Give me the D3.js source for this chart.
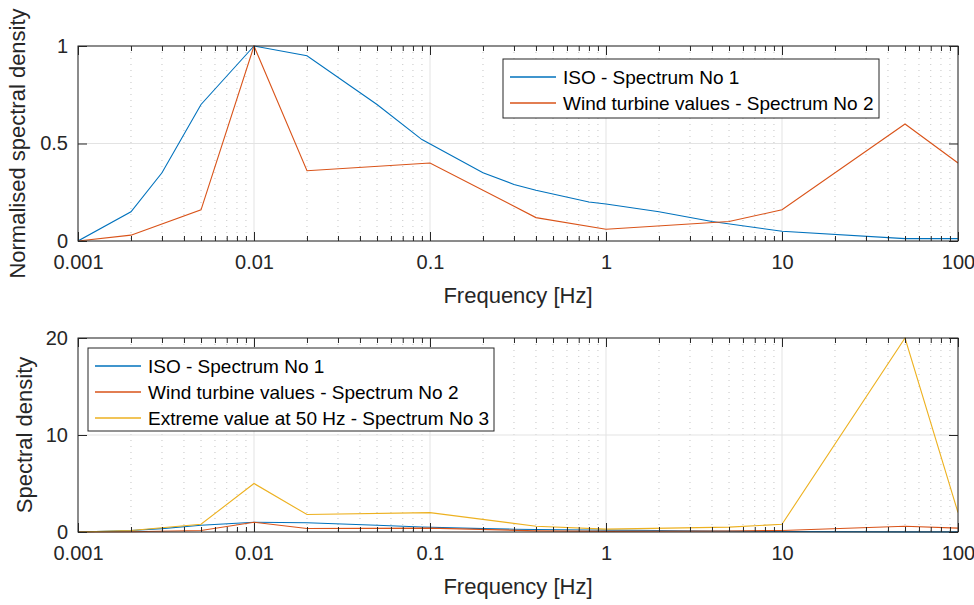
<!DOCTYPE html>
<html>
<head>
<meta charset="utf-8">
<script src="https://cdn.jsdelivr.net/npm/d3@7"></script>
<style>
    body { margin: 0; background: white; }
    svg { display: block; font-family: "Liberation Sans", Arial, sans-serif; }
</style>
</head>
<body>
<div id="chart"></div>
<script>
// ISO spectrum (No 1)
var isoFreq = [0.001, 0.002, 0.003, 0.005, 0.01, 0.02, 0.05, 0.09, 0.2, 0.3, 0.4, 0.8, 1, 2, 4, 10, 50, 100];
var isoVals = [0, 0.15, 0.35, 0.70, 1.0, 0.95, 0.70, 0.52, 0.35, 0.29, 0.26, 0.20, 0.19, 0.15, 0.10, 0.05, 0.012, 0.012];

// wind turbine spectrum (No 2) and extreme spectrum (No 3)
var windFreq = [0.001, 0.002, 0.005, 0.01, 0.02, 0.1, 0.4, 1, 5, 10, 50, 100];
var windVals = [0, 0.03, 0.16, 1.0, 0.36, 0.40, 0.12, 0.06, 0.10, 0.16, 0.60, 0.40];
var extremeVals = [0, 0.15, 0.8, 5.0, 1.8, 2.0, 0.6, 0.3, 0.5, 0.8, 20, 2.0];

var xTicks = [0.001, 0.01, 0.1, 1, 10, 100];
var xTickLabels = ['0.001', '0.01', '0.1', '1', '10', '100'];
var topYTicks = [0, 0.5, 1];
var bottomYTicks = [0, 10, 20];

var seriesNames = ['ISO - Spectrum No 1', 'Wind turbine values - Spectrum No 2', 'Extreme value at 50 Hz - Spectrum No 3'];
var colors = ['#0072bd', '#d95319', '#edb120'];

var W = 974, H = 605;
var svg = d3.select('#chart').append('svg')
    .attr('width', W)
    .attr('height', H);

var axisColor = '#262626';

function drawPanel(p) {
    var xS = d3.scaleLog().domain([0.001, 100]).range([p.left, p.right]);
    var yS = d3.scaleLinear().domain(p.yDomain).range([p.bottom, p.top]);
    var g = svg.append('g');

    // minor grid (dotted)
    var minor = [];
    for (var e = -3; e < 2; e++) {
        for (var k = 2; k < 10; k++) minor.push(k * Math.pow(10, e));
    }
    g.selectAll('.minorgrid').data(minor).enter().append('line')
        .attr('x1', function (d) { return xS(d); })
        .attr('x2', function (d) { return xS(d); })
        .attr('y1', p.top).attr('y2', p.bottom)
        .style('stroke', '#c4c4c4')
        .style('stroke-width', 1)
        .style('stroke-dasharray', '1,5');

    // major grid
    g.selectAll('.xgrid').data(xTicks).enter().append('line')
        .attr('x1', function (d) { return xS(d); })
        .attr('x2', function (d) { return xS(d); })
        .attr('y1', p.top).attr('y2', p.bottom)
        .style('stroke', '#e3e3e3');
    g.selectAll('.ygrid').data(p.yTicks).enter().append('line')
        .attr('x1', p.left).attr('x2', p.right)
        .attr('y1', function (d) { return yS(d); })
        .attr('y2', function (d) { return yS(d); })
        .style('stroke', '#e3e3e3');

    // clip
    var clipId = 'clip' + p.id;
    svg.append('clipPath').attr('id', clipId).append('rect')
        .attr('x', p.left).attr('y', p.top - 1)
        .attr('width', p.right - p.left).attr('height', p.bottom - p.top + 2);

    var line = d3.line()
        .x(function (d) { return xS(d[0]); })
        .y(function (d) { return yS(d[1]); });

    p.series.forEach(function (s) {
        g.append('path')
            .datum(d3.zip(s.x, s.y))
            .attr('clip-path', 'url(#' + clipId + ')')
            .attr('d', line)
            .style('fill', 'none')
            .style('stroke', s.color)
            .style('stroke-width', 1.1);
    });

    // axes with inward ticks
    var bottomAx = d3.axisBottom(xS).tickValues(xTicks).tickSizeInner(-9).tickSizeOuter(0)
        .tickFormat(function (d, i) { return xTickLabels[i]; }).tickPadding(14);
    var topAx = d3.axisTop(xS).tickValues(xTicks).tickSizeInner(-9).tickSizeOuter(0).tickFormat('');
    var leftAx = d3.axisLeft(yS).tickValues(p.yTicks).tickSizeInner(-9).tickSizeOuter(0).tickPadding(10)
        .tickFormat(function (d) { return String(d); });
    var rightAx = d3.axisRight(yS).tickValues(p.yTicks).tickSizeInner(-9).tickSizeOuter(0).tickFormat('');

    var minorBottom = d3.axisBottom(xS).tickValues(minor).tickSizeInner(-5).tickSizeOuter(0).tickFormat('');
    var minorTop = d3.axisTop(xS).tickValues(minor).tickSizeInner(-5).tickSizeOuter(0).tickFormat('');

    var axes = [
        [bottomAx, 'translate(0,' + p.bottom + ')'],
        [minorBottom, 'translate(0,' + p.bottom + ')'],
        [topAx, 'translate(0,' + p.top + ')'],
        [minorTop, 'translate(0,' + p.top + ')'],
        [leftAx, 'translate(' + p.left + ',0)'],
        [rightAx, 'translate(' + p.right + ',0)']
    ];
    axes.forEach(function (a) {
        var ag = g.append('g').attr('transform', a[1]).call(a[0]);
        ag.select('.domain').remove();
        ag.selectAll('line').style('stroke', axisColor);
        ag.selectAll('text').style('fill', axisColor).style('font-size', '20px')
            .style('font-family', '"Liberation Sans", Arial, sans-serif');
    });

    // box
    g.append('rect')
        .attr('x', p.left).attr('y', p.top)
        .attr('width', p.right - p.left).attr('height', p.bottom - p.top)
        .style('fill', 'none')
        .style('stroke', axisColor)
        .style('stroke-width', 1);

    // labels
    g.append('text')
        .attr('x', (p.left + p.right) / 2)
        .attr('y', p.bottom + 62)
        .attr('text-anchor', 'middle')
        .style('font-size', '22px')
        .style('fill', axisColor)
        .text('Frequency [Hz]');
    g.append('text')
        .attr('transform', 'translate(' + p.ylabelX + ',' + ((p.top + p.bottom) / 2) + ') rotate(-90)')
        .attr('text-anchor', 'middle')
        .style('font-size', '22px')
        .style('fill', axisColor)
        .text(p.ylabel);

    // legend
    var lg = g.append('g');
    lg.append('rect')
        .attr('x', p.legend.x).attr('y', p.legend.y)
        .attr('width', p.legend.w).attr('height', p.legend.h)
        .style('fill', 'white')
        .style('stroke', axisColor)
        .style('stroke-width', 1);
    p.series.forEach(function (s, i) {
        var ly = p.legend.y + 18 + i * 26;
        lg.append('line')
            .attr('x1', p.legend.x + 7).attr('x2', p.legend.x + 53)
            .attr('y1', ly).attr('y2', ly)
            .style('stroke', s.color)
            .style('stroke-width', 1.5);
        lg.append('text')
            .attr('x', p.legend.x + 60)
            .attr('y', ly + 7)
            .style('font-size', '19px')
            .style('fill', '#000')
            .text(s.name);
    });
}

drawPanel({
    id: 1, left: 78, right: 958, top: 46, bottom: 241,
    yDomain: [0, 1], yTicks: topYTicks,
    ylabel: 'Normalised spectral density', ylabelX: 25,
    legend: { x: 503, y: 59, w: 376, h: 59 },
    series: [
        { x: isoFreq, y: isoVals, color: colors[0], name: seriesNames[0] },
        { x: windFreq, y: windVals, color: colors[1], name: seriesNames[1] }
    ]
});

drawPanel({
    id: 2, left: 78, right: 958, top: 338, bottom: 532,
    yDomain: [0, 20], yTicks: bottomYTicks,
    ylabel: 'Spectral density', ylabelX: 32,
    legend: { x: 88, y: 348, w: 406, h: 83 },
    series: [
        { x: isoFreq, y: isoVals, color: colors[0], name: seriesNames[0] },
        { x: windFreq, y: windVals, color: colors[1], name: seriesNames[1] },
        { x: windFreq, y: extremeVals, color: colors[2], name: seriesNames[2] }
    ]
});
</script>
</body>
</html>
